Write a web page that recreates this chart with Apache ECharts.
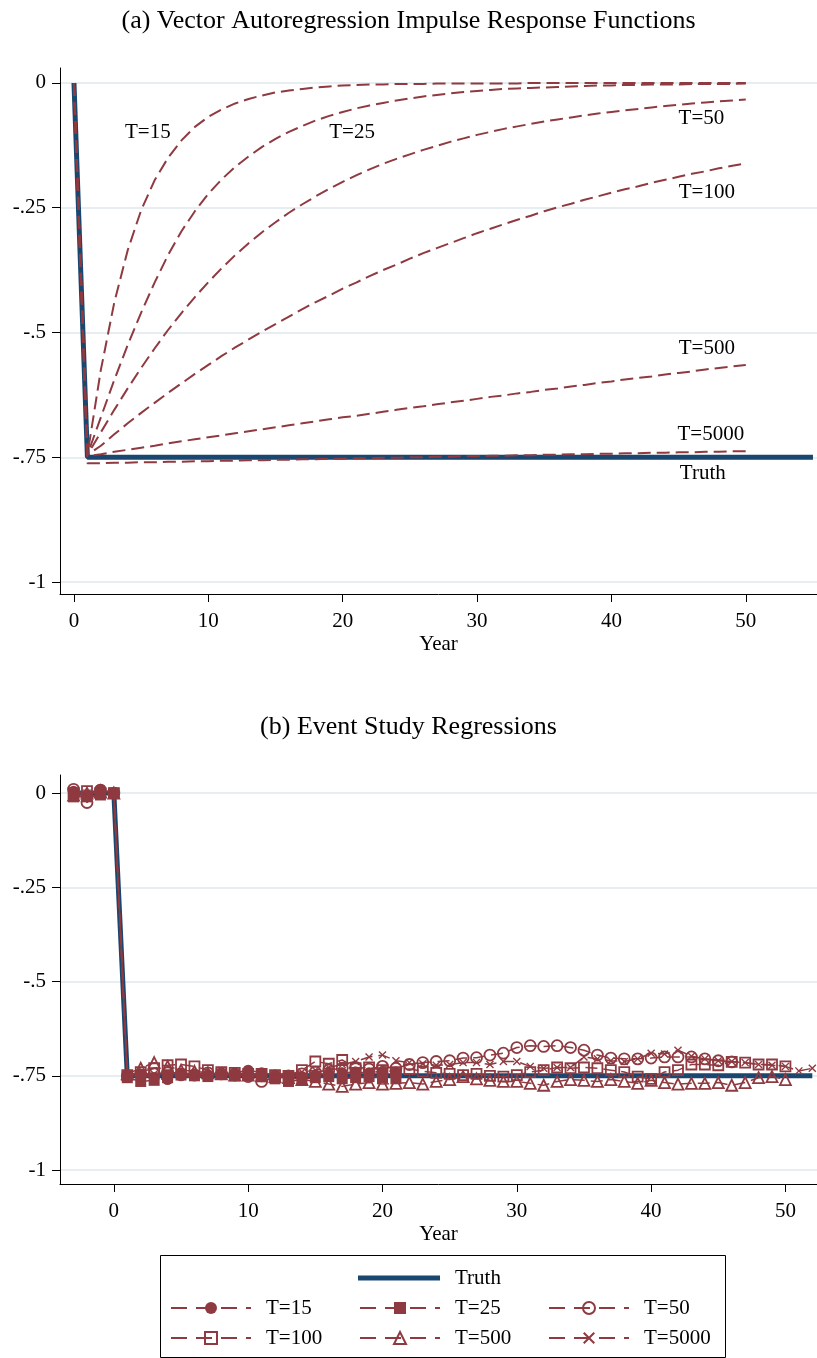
<!DOCTYPE html>
<html><head><meta charset="utf-8">
<script src="https://cdn.jsdelivr.net/npm/echarts@6/dist/echarts.min.js"></script>
<style>html,body{margin:0;padding:0;background:#fff}#c{width:817px;height:1358px}</style>
</head><body><div id="c"></div>
<script>
// ---------- Data: (a) VAR impulse responses, years 0..50 ----------
const irfYears = [0,1,2,3,4,5,6,7,8,9,10,11,12,13,14,15,16,17,18,19,20,21,22,23,24,25,26,27,28,29,30,31,32,33,34,35,36,37,38,39,40,41,42,43,44,45,46,47,48,49,50];
const irfT15 = [0,-0.745,-0.575,-0.44,-0.335,-0.255,-0.195,-0.15,-0.115,-0.088,-0.068,-0.053,-0.041,-0.032,-0.025,-0.019,-0.015,-0.012,-0.009,-0.007,-0.005,-0.004,-0.003,-0.003,-0.002,-0.002,-0.002,-0.001,-0.001,-0.001,-0.001,-0.001,-0.001,-0.001,0,0,0,0,0,0,0,0,0,0,0,0,0,0,0,0,0];
const irfT25 = [0,-0.745,-0.67,-0.595,-0.525,-0.46,-0.40,-0.345,-0.297,-0.257,-0.222,-0.193,-0.168,-0.147,-0.128,-0.112,-0.098,-0.086,-0.075,-0.066,-0.058,-0.051,-0.045,-0.04,-0.035,-0.031,-0.027,-0.024,-0.021,-0.018,-0.016,-0.014,-0.012,-0.011,-0.01,-0.009,-0.008,-0.007,-0.006,-0.005,-0.005,-0.004,-0.004,-0.003,-0.003,-0.003,-0.002,-0.002,-0.002,-0.002,-0.001];
const irfT50 = [0,-0.745,-0.70,-0.655,-0.612,-0.571,-0.532,-0.495,-0.461,-0.429,-0.399,-0.371,-0.345,-0.321,-0.299,-0.279,-0.26,-0.243,-0.227,-0.212,-0.198,-0.185,-0.173,-0.162,-0.152,-0.143,-0.134,-0.126,-0.118,-0.111,-0.104,-0.098,-0.092,-0.087,-0.082,-0.077,-0.073,-0.069,-0.065,-0.061,-0.058,-0.055,-0.052,-0.049,-0.046,-0.044,-0.041,-0.039,-0.037,-0.035,-0.033];
const irfT100 = [0,-0.745,-0.727,-0.704,-0.682,-0.661,-0.641,-0.621,-0.602,-0.583,-0.565,-0.547,-0.53,-0.514,-0.498,-0.483,-0.468,-0.453,-0.439,-0.426,-0.412,-0.4,-0.387,-0.375,-0.364,-0.352,-0.341,-0.331,-0.321,-0.311,-0.301,-0.292,-0.283,-0.274,-0.266,-0.257,-0.249,-0.242,-0.234,-0.227,-0.22,-0.213,-0.207,-0.2,-0.194,-0.188,-0.182,-0.177,-0.171,-0.166,-0.161];
const irfT500 = [0,-0.748,-0.744,-0.739,-0.735,-0.731,-0.727,-0.722,-0.718,-0.714,-0.71,-0.706,-0.702,-0.698,-0.694,-0.69,-0.686,-0.682,-0.678,-0.674,-0.67,-0.667,-0.663,-0.659,-0.655,-0.651,-0.648,-0.644,-0.64,-0.637,-0.633,-0.629,-0.626,-0.622,-0.619,-0.615,-0.612,-0.608,-0.605,-0.601,-0.598,-0.594,-0.591,-0.588,-0.584,-0.581,-0.578,-0.574,-0.571,-0.568,-0.565];
const irfT5000 = [0,-0.762,-0.762,-0.761,-0.761,-0.76,-0.76,-0.759,-0.759,-0.758,-0.758,-0.757,-0.757,-0.756,-0.756,-0.755,-0.755,-0.754,-0.754,-0.753,-0.753,-0.752,-0.752,-0.751,-0.751,-0.75,-0.75,-0.749,-0.749,-0.748,-0.748,-0.747,-0.747,-0.746,-0.746,-0.745,-0.745,-0.744,-0.744,-0.743,-0.743,-0.742,-0.742,-0.741,-0.741,-0.74,-0.74,-0.739,-0.739,-0.738,-0.738];
const truthYearsA = [0,1,55];
const truthA = [0,-0.75,-0.75];
// labels drawn next to the VAR curves: [name, year, value]
const irfLabels = [['T=15',5.5,-0.1],['T=25',20.7,-0.1],['T=50',46.7,-0.072],['T=100',47.1,-0.22],['T=500',47.1,-0.533],['T=5000',47.4,-0.704],['Truth',46.8,-0.782]];

// ---------- Data: (b) event study coefficients ----------
const esStart = -3;
const esT15 = [0.005,-0.005,0.01,0,-0.75,-0.745,-0.755,-0.76,-0.75,-0.745,-0.748,-0.745,-0.742,-0.735,-0.742,-0.748,-0.75,-0.752,-0.748,-0.745,-0.742,-0.74,-0.742,-0.738,-0.74];
const esT25 = [-0.01,-0.01,-0.005,0,-0.755,-0.765,-0.762,-0.755,-0.748,-0.75,-0.752,-0.745,-0.75,-0.748,-0.752,-0.758,-0.765,-0.76,-0.755,-0.752,-0.758,-0.755,-0.752,-0.755,-0.758];
const esT50 = [0.01,-0.025,0.008,0,-0.75,-0.748,-0.745,-0.742,-0.745,-0.748,-0.742,-0.745,-0.748,-0.752,-0.765,-0.755,-0.75,-0.745,-0.74,-0.735,-0.73,-0.728,-0.732,-0.725,-0.73,-0.72,-0.715,-0.712,-0.71,-0.703,-0.702,-0.695,-0.69,-0.675,-0.67,-0.672,-0.67,-0.675,-0.682,-0.695,-0.703,-0.705,-0.705,-0.703,-0.7,-0.7,-0.7,-0.705,-0.71,-0.713];
const esT100 = [0,0.005,0,0,-0.748,-0.74,-0.73,-0.722,-0.72,-0.725,-0.735,-0.74,-0.742,-0.745,-0.745,-0.748,-0.75,-0.735,-0.712,-0.718,-0.708,-0.73,-0.728,-0.735,-0.74,-0.732,-0.738,-0.742,-0.745,-0.748,-0.745,-0.75,-0.752,-0.748,-0.74,-0.735,-0.728,-0.73,-0.728,-0.73,-0.735,-0.74,-0.752,-0.758,-0.74,-0.735,-0.72,-0.72,-0.722,-0.713,-0.715,-0.72,-0.72,-0.725];
const esT500 = [-0.005,0,0.003,0,-0.745,-0.73,-0.715,-0.725,-0.735,-0.738,-0.742,-0.745,-0.748,-0.748,-0.75,-0.752,-0.755,-0.76,-0.765,-0.772,-0.778,-0.772,-0.768,-0.772,-0.77,-0.768,-0.772,-0.765,-0.76,-0.752,-0.758,-0.762,-0.765,-0.765,-0.77,-0.775,-0.765,-0.76,-0.762,-0.765,-0.76,-0.765,-0.77,-0.762,-0.768,-0.772,-0.77,-0.77,-0.768,-0.775,-0.768,-0.755,-0.752,-0.76];
const esT5000 = [0,0,0,0,-0.748,-0.745,-0.745,-0.742,-0.742,-0.745,-0.745,-0.748,-0.745,-0.745,-0.748,-0.748,-0.745,-0.74,-0.735,-0.728,-0.72,-0.712,-0.7,-0.695,-0.71,-0.715,-0.718,-0.722,-0.72,-0.715,-0.715,-0.72,-0.712,-0.712,-0.725,-0.73,-0.728,-0.728,-0.7,-0.705,-0.71,-0.712,-0.705,-0.69,-0.692,-0.682,-0.698,-0.705,-0.71,-0.712,-0.715,-0.72,-0.722,-0.725,-0.737,-0.73];
const truthYearsB = [-3,0,1,52];
const truthB = [0,0,-0.75,-0.75];

const xTicks = [0,10,20,30,40,50];
const yTicks = [-1,-0.75,-0.5,-0.25,0];
const seriesNames = ['T=15','T=25','T=50','T=100','T=500','T=5000'];

// ---------- Styling ----------
const RED = '#8f3a40', BLUE = '#1a476f', FONT = 'Liberation Serif';
const XMARK = 'path://M0,1.2 L1.2,0 L5,3.8 L8.8,0 L10,1.2 L6.2,5 L10,8.8 L8.8,10 L5,6.2 L1.2,10 L0,8.8 L3.8,5 Z';
const esSymbols = [
  {symbol:'circle', fill:RED},
  {symbol:'rect', fill:RED},
  {symbol:'circle', fill:'none'},
  {symbol:'rect', fill:'none'},
  {symbol:'triangle', fill:'none'},
  {symbol:XMARK, fill:RED}
];
const esSizes = [11,11,11,10,11,8];

function pairs(xs, ys){ return ys.map((v,i)=>[xs[i], v]); }
function pairsFrom(start, ys){ return ys.map((v,i)=>[start+i, v]); }
function fmtY(v){ if (Math.abs(v)<1e-9) return '0'; const s = String(Math.abs(v)).replace(/^0/,''); return (v<0?'-':'')+s; }

function xAxisCfg(gridIndex, min, max){
  return {type:'value', gridIndex, min, max,
    name:'Year', nameLocation:'middle', nameGap:40,
    nameTextStyle:{fontFamily:FONT, fontSize:21, color:'#000'},
    axisLine:{show:true, onZero:false, lineStyle:{color:'#000', width:1}},
    axisTick:{show:true, length:8, customValues:xTicks, lineStyle:{color:'#000'}},
    axisLabel:{customValues:xTicks, margin:17, fontFamily:FONT, fontSize:21, color:'#000'},
    splitLine:{show:false}};
}
function yAxisCfg(gridIndex, min, max){
  return {type:'value', gridIndex, min, max,
    axisLine:{show:true, onZero:false, lineStyle:{color:'#000', width:1}},
    axisTick:{show:true, length:8, customValues:yTicks, lineStyle:{color:'#000'}},
    axisLabel:{customValues:yTicks, margin:14, fontFamily:FONT, fontSize:21, color:'#000', formatter:fmtY},
    splitLine:{show:true, lineStyle:{color:'#e6eef2', width:2}}};
}

const series = [];
// (b) event study first so the legend uses these icons
series.push({name:'Truth', type:'line', xAxisIndex:1, yAxisIndex:1, data:pairs(truthYearsB, truthB),
  symbol:'none', lineStyle:{color:BLUE, width:5}, itemStyle:{color:BLUE}, z:2});
const esData = [esT15, esT25, esT50, esT100, esT500, esT5000];
esData.forEach((arr, i)=>{
  const s = esSymbols[i];
  series.push({name:seriesNames[i], type:'line', xAxisIndex:1, yAxisIndex:1, data:pairsFrom(esStart, arr),
    symbol:s.symbol, symbolSize:esSizes[i], showAllSymbol:true,
    lineStyle:{color:RED, width:1.5, type:[12,6]},
    itemStyle:{color:s.fill, borderColor:RED, borderWidth:s.fill==='none'?1.8:0},
    z:3+i});
});
// (a) VAR IRFs
series.push({name:'Truth', type:'line', xAxisIndex:0, yAxisIndex:0, data:pairs(truthYearsA, truthA),
  symbol:'none', lineStyle:{color:BLUE, width:5}, z:2});
const irfData = [irfT15, irfT25, irfT50, irfT100, irfT500, irfT5000];
irfData.forEach((arr, i)=>{
  series.push({name:seriesNames[i], type:'line', xAxisIndex:0, yAxisIndex:0, data:pairs(irfYears, arr),
    symbol:'none', smooth:false, lineStyle:{color:RED, width:2, type:[13,6]}, z:3});
});
// text annotations of panel (a), anchored in data coordinates
series.push({name:'labels', type:'scatter', xAxisIndex:0, yAxisIndex:0,
  data:irfLabels.map(l=>({value:[l[1], l[2]], name:l[0]})),
  symbolSize:0, silent:true, z:10, itemStyle:{color:'#000'},
  label:{show:true, position:'inside', formatter:p=>p.name, fontFamily:FONT, fontSize:21, color:'#000', textBorderWidth:0, textBorderColor:'transparent', opacity:1}});

const legendText = {fontFamily:FONT, fontSize:21, color:'#000', width:92, lineHeight:24, padding:[0,0,0,10]};
const legendLine = {type:[16,9], width:2};
const option = {
  animation:false,
  backgroundColor:'#fff',
  title:[
    {text:'(a) Vector Autoregression Impulse Response Functions', left:'center', top:3,
     textStyle:{fontFamily:FONT, fontSize:26, fontWeight:'normal', color:'#000'}},
    {text:'(b) Event Study Regressions', left:'center', top:709,
     textStyle:{fontFamily:FONT, fontSize:26, fontWeight:'normal', color:'#000'}}
  ],
  grid:[
    {left:60, right:0, top:68, height:526, containLabel:false},
    {left:60, right:0, top:775, height:409, containLabel:false}
  ],
  xAxis:[xAxisCfg(0, -1.04, 55.3), xAxisCfg(1, -4.01, 52.35)],
  yAxis:[yAxisCfg(0, -1.024, 0.03), yAxisCfg(1, -1.037, 0.048)],
  legend:[
    {data:[{name:'Truth', icon:'rect'}], left:358, top:1266, padding:0, itemWidth:82, itemHeight:5, itemGap:3, selectedMode:false, textStyle:legendText,
     itemStyle:{color:BLUE}},
    {data:['T=15','T=25','T=50'], left:170, top:1296, padding:0, itemWidth:80, itemHeight:15, itemGap:1, selectedMode:false, textStyle:legendText, lineStyle:legendLine},
    {data:['T=100','T=500','T=5000'], left:170, top:1326, padding:0, itemWidth:80, itemHeight:15, itemGap:1, selectedMode:false, textStyle:legendText, lineStyle:legendLine}
  ],
  graphic:[{type:'rect', shape:{x:160.5, y:1255.5, width:565, height:102}, style:{fill:'none', stroke:'#000', lineWidth:1}, silent:true}],
  series
};
const chart = echarts.init(document.getElementById('c'), null, {renderer:'canvas'});
chart.setOption(option);
</script>
</body></html>
